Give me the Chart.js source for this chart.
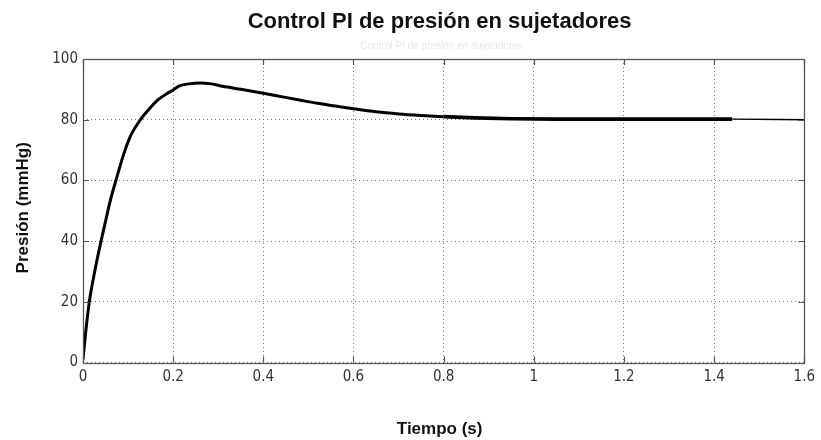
<!DOCTYPE html>
<html lang="es">
<head>
<meta charset="utf-8">
<title>Control PI de presión en sujetadores</title>
<script src="https://cdn.jsdelivr.net/npm/chart.js@4.4.1/dist/chart.umd.min.js"></script>
<style>
  html, body { margin: 0; padding: 0; background: #ffffff; }
  #wrap { width: 821px; height: 440px; position: relative; }
</style>
</head>
<body>
<div id="wrap"><canvas id="chart" width="821" height="440"></canvas></div>
<script>
// Step response of the PI pressure controller
const tiempo = [0, 0.006, 0.014, 0.026, 0.04, 0.05, 0.06, 0.075, 0.09, 0.105, 0.125,
  0.145, 0.166, 0.185, 0.2, 0.215, 0.235, 0.26, 0.285, 0.31, 0.35, 0.4, 0.44, 0.48,
  0.52, 0.56, 0.6, 0.65, 0.7, 0.75, 0.8, 0.87, 0.95, 1.05, 1.2, 1.44, 1.6];
const presion = [1, 10, 20, 30, 40, 46.5, 53, 61, 68.5, 74.5, 79.5,
  83.2, 86.5, 88.5, 89.8, 91.2, 91.8, 92.1, 91.8, 91.0, 90.0, 88.7, 87.6, 86.5,
  85.4, 84.5, 83.6, 82.6, 81.9, 81.4, 81.0, 80.6, 80.3, 80.2, 80.2, 80.2, 80.0];
// after this time the trace is drawn with a thin line
const tiempoTrazoFino = 1.44;

const xTicks = [0, 0.2, 0.4, 0.6, 0.8, 1, 1.2, 1.4, 1.6];
const yTicks = [0, 20, 40, 60, 80, 100];

const titulo = 'Control PI de presión en sujetadores';
const tituloEje = 'Tiempo (s)';
const tituloEjeY = 'Presión (mmHg)';

const puntos = tiempo.map((t, i) => ({ x: t, y: presion[i] }));

const tickFont = { family: "'Liberation Sans Narrow', 'DejaVu Sans Condensed', 'Liberation Sans', sans-serif", size: 15 };

// Frame, inner tick marks and the text around the axes
const marco = {
  id: 'marco',
  afterDraw(chart) {
    const { ctx, chartArea: a, scales } = chart;
    ctx.save();
    ctx.strokeStyle = '#555555';
    ctx.lineWidth = 1.2;
    ctx.beginPath();
    scales.x.ticks.forEach(tk => {
      const px = Math.round(scales.x.getPixelForValue(tk.value)) + 0.5;
      ctx.moveTo(px, a.bottom); ctx.lineTo(px, a.bottom - 6);
      ctx.moveTo(px, a.top); ctx.lineTo(px, a.top + 6);
    });
    scales.y.ticks.forEach(tk => {
      const py = Math.round(scales.y.getPixelForValue(tk.value)) + 0.5;
      ctx.moveTo(a.left, py); ctx.lineTo(a.left + 6, py);
      ctx.moveTo(a.right, py); ctx.lineTo(a.right - 6, py);
    });
    ctx.stroke();
    ctx.lineWidth = 1.3;
    ctx.strokeRect(Math.round(a.left) + 0.5, Math.round(a.top) + 0.5,
      Math.round(a.right - a.left), Math.round(a.bottom - a.top));

    const cx = (a.left + a.right) / 2 - 4;
    ctx.fillStyle = '#111111';
    ctx.textAlign = 'center';
    ctx.textBaseline = 'alphabetic';
    ctx.font = "bold 22px 'Liberation Sans', Arial, sans-serif";
    ctx.fillText(titulo, cx, 28);
    ctx.fillStyle = 'rgba(0,0,0,0.1)';
    ctx.font = "10px 'Liberation Sans', Arial, sans-serif";
    ctx.fillText(titulo, cx + 2, 49);

    ctx.fillStyle = '#111111';
    ctx.font = "bold 17px 'Liberation Sans', Arial, sans-serif";
    ctx.fillText(tituloEje, cx, 434);
    ctx.translate(28, (a.top + a.bottom) / 2 - 3);
    ctx.rotate(-Math.PI / 2);
    ctx.fillText(tituloEjeY, 0, 0);
    ctx.restore();
  }
};

new Chart(document.getElementById('chart'), {
  type: 'line',
  data: {
    datasets: [{
      data: puntos,
      borderColor: '#000000',
      borderWidth: 3,
      pointRadius: 0,
      cubicInterpolationMode: 'monotone',
      fill: false,
      segment: {
        borderWidth: c => (c.p0.parsed.x >= tiempoTrazoFino ? 1.4 : (c.p0.parsed.x >= 0.8 ? 3.6 : 3))
      }
    }]
  },
  options: {
    responsive: false,
    animation: false,
    events: [],
    layout: { padding: { left: 0, right: 10, top: 59, bottom: 0 } },
    plugins: { legend: { display: false }, tooltip: { enabled: false }, title: { display: false } },
    scales: {
      x: {
        type: 'linear',
        min: 0, max: 1.6,
        afterBuildTicks: s => { s.ticks = xTicks.map(v => ({ value: v })); },
        afterFit: s => { s.height = 77.5; },
        ticks: {
          padding: 6,
          color: '#333333',
          font: tickFont,
          maxRotation: 0,
          callback: v => String(v)
        },
        grid: { color: '#7a7a7a', lineWidth: 1, drawTicks: false },
        border: { display: false, dash: [1, 3] }
      },
      y: {
        type: 'linear',
        min: 0, max: 100,
        afterBuildTicks: s => { s.ticks = yTicks.map(v => ({ value: v })); },
        afterFit: s => { s.width = 83; },
        ticks: {
          padding: 5,
          color: '#333333',
          font: tickFont,
          callback: v => String(v)
        },
        grid: { color: '#7a7a7a', lineWidth: 1, drawTicks: false },
        border: { display: false, dash: [1, 3] }
      }
    }
  },
  plugins: [marco]
});
</script>
</body>
</html>
